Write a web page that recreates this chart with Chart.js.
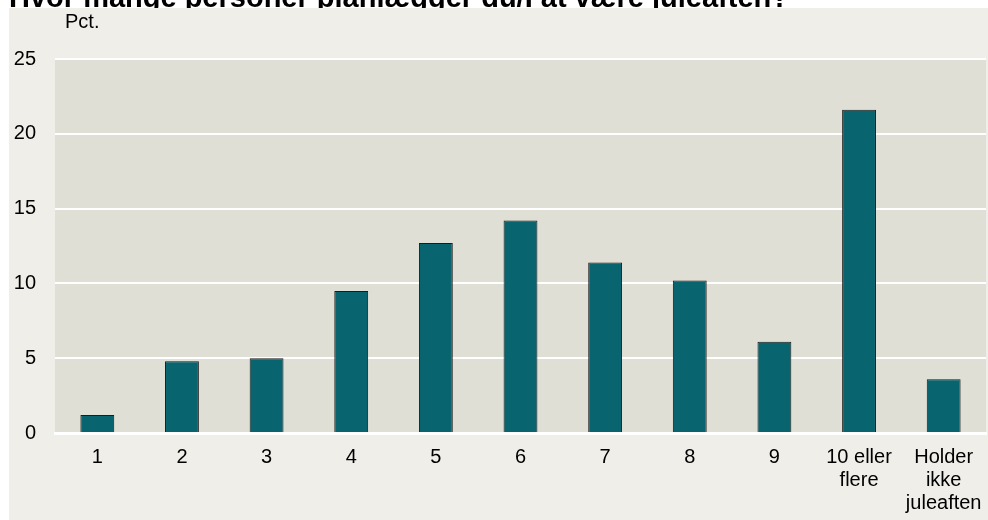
<!DOCTYPE html>
<html>
<head>
<meta charset="utf-8">
<script src="https://cdn.jsdelivr.net/npm/chart.js@4"></script>
<style>
html,body{margin:0;padding:0;background:#fff;}
#wrap{position:absolute;left:0;top:0;width:988px;height:520px;}
</style>
</head>
<body>
<div id="wrap"><canvas id="c" width="988" height="520"></canvas></div>
<script>
const title = "Hvor mange personer planlægger du/I at være juleaften?";
const unitLabel = "Pct.";
const categories = ["1","2","3","4","5","6","7","8","9",["10 eller","flere"],["Holder","ikke","juleaften"]];
const values = [1.2, 4.8, 5.0, 9.5, 12.7, 14.2, 11.4, 10.2, 6.1, 21.6, 3.6];
const yTicks = [0, 5, 10, 15, 20, 25];

const FONT = "Arial, 'Liberation Sans', sans-serif";

const decor = {
  id: 'decor',
  beforeDraw(chart) {
    const ctx = chart.ctx;
    ctx.save();
    ctx.fillStyle = '#ffffff';
    ctx.fillRect(0, 0, chart.width, chart.height);
    ctx.fillStyle = '#000';
    ctx.font = "bold 29px " + FONT;
    ctx.textBaseline = 'alphabetic';
    ctx.textAlign = 'left';
    ctx.fillText(title, 9, 7);
    ctx.fillStyle = '#EFEEE8';
    ctx.fillRect(9, 8, chart.width - 9, chart.height - 8);
    const a = chart.chartArea;
    ctx.fillStyle = '#E0DFD5';
    ctx.fillRect(a.left, a.top, a.right - a.left, a.bottom - a.top);
    ctx.fillStyle = '#000';
    ctx.font = "20px " + FONT;
    ctx.textBaseline = 'middle';
    ctx.fillText(unitLabel, 65, 22);
    ctx.restore();
  }
};

new Chart(document.getElementById('c'), {
  type: 'bar',
  data: {
    labels: categories,
    datasets: [{
      data: values,
      backgroundColor: '#08646F',
      borderColor: '#1b1b1b',
      borderWidth: 1,
      borderSkipped: 'bottom',
      barPercentage: 0.8,
      categoryPercentage: 0.5
    }]
  },
  options: {
    responsive: false,
    animation: false,
    devicePixelRatio: 1,
    layout: { padding: { left: 0, right: 2, top: 59, bottom: 0 } },
    plugins: { legend: { display: false }, tooltip: { enabled: false }, title: { display: false } },
    scales: {
      x: {
        grid: { display: false, drawTicks: false },
        border: { display: true, color: '#ffffff', width: 3 },
        ticks: { color: '#000', font: { family: FONT, size: 20, lineHeight: 1.15 }, padding: 13, maxRotation: 0, autoSkip: false },
        afterFit(s) { s.height = 87; s.paddingLeft = 0; s.paddingRight = 0; }
      },
      y: {
        min: 0, max: 25,
        afterBuildTicks(s) { s.ticks = yTicks.map(v => ({ value: v })); },
        grid: { color: '#ffffff', lineWidth: 2, drawTicks: false },
        border: { display: false },
        ticks: { color: '#000', font: { family: FONT, size: 20 }, padding: 19 },
        afterFit(s) { s.width = 55; s.paddingTop = 0; s.paddingBottom = 0; }
      }
    }
  },
  plugins: [decor]
});
</script>
</body>
</html>
